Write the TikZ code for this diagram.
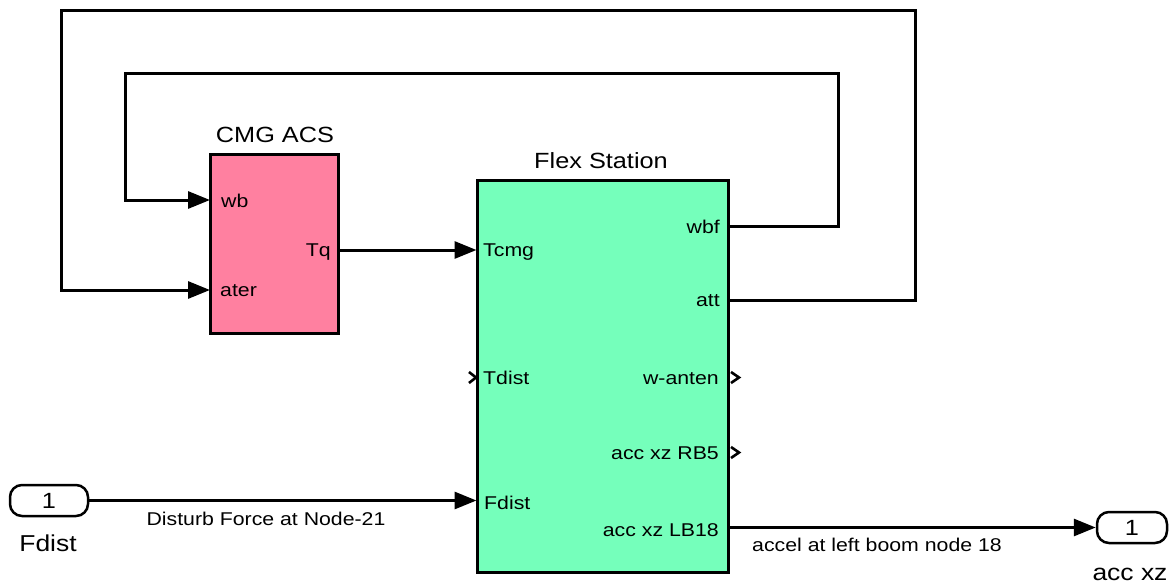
\documentclass[tikz,border=0pt]{standalone}
\usepackage{fontspec}
\setmainfont{Liberation Sans}[FakeStretch=1.15]
\usetikzlibrary{arrows.meta}
\definecolor{cmgpink}{RGB}{255,128,160}
\definecolor{flexgreen}{RGB}{117,255,187}
\begin{document}
\begin{tikzpicture}[x=1pt,y=-1pt,
  block/.style={draw=black, line width=3pt, inner sep=0pt},
  ioport/.style={draw=black, line width=2.5pt, rounded corners=12pt, minimum width=78pt, minimum height=31pt, inner sep=0pt, text height=16pt, text depth=0pt, font=\fontsize{22}{24}\selectfont},
  wire/.style={line width=3pt},
  arr/.style={wire, -{Triangle[length=22pt,width=17pt]}},
  pin/.style={inner sep=0pt, text height=13pt, text depth=0pt, font=\fontsize{18.5}{20}\selectfont},
  pinl/.style={pin, anchor=west},
  pinr/.style={pin, anchor=east},
  lbl/.style={pin},
  biglbl/.style={inner sep=0pt, text height=16pt, text depth=0pt, font=\fontsize{23}{25}\selectfont},
  ttl/.style={inner sep=0pt, text height=15.5pt, text depth=0pt, font=\fontsize{22}{24}\selectfont},
  chev/.style={line width=2.6pt, line join=miter}
]
\useasboundingbox (0,0) rectangle (1170,583);

% blocks
\node[block, fill=cmgpink, minimum width=128pt, minimum height=178pt] (cmg) at (274,244) {};
\node[block, fill=flexgreen, minimum width=251pt, minimum height=392pt] (flex) at (602.5,376) {};

% titles
\node[ttl] (cmgt) at (275,135) {CMG ACS};
\node[ttl] (flext) at (601,161) {Flex Station};

% port coordinates
\coordinate (cmgwb) at (210,200);
\coordinate (cmgater) at (210,290);
\coordinate (cmgtq) at (338,250);
\coordinate (flextcmg) at (476.5,250);
\coordinate (flexfdist) at (476.5,500.5);
\coordinate (flexwbf) at (728.5,226);
\coordinate (flexatt) at (728.5,300);
\coordinate (flexlb) at (728.5,527.5);

% port labels
\node[pinl] (lwb) at (221,201) {wb};
\node[pinl] (later) at (220,290) {ater};
\node[pinr] (ltq) at (331,250) {Tq};
\node[pinl] (ltcmg) at (483,250) {Tcmg};
\node[pinl] (ltdist) at (483,377.5) {Tdist};
\node[pinl] (lfdist) at (484,502.5) {Fdist};
\node[pinr] (lwbf) at (720,227) {wbf};
\node[pinr] (latt) at (720,300) {att};
\node[pinr] (lwant) at (719,377.5) {w-anten};
\node[pinr] (lrb5) at (719,452.5) {acc xz RB5};
\node[pinr] (llb18) at (719,529.5) {acc xz LB18};

% unconnected port markers
\draw[chev] (469,372) -- (476,377.5) -- (469,383);
\draw[chev] (731,372) -- (739,377.5) -- (731,383);
\draw[chev] (731,447) -- (739,452.5) -- (731,458);

% in / out ports
\node[ioport] (fin) at (49,500.5) {1};
\node[biglbl] (fint) at (48,543) {Fdist};
\node[ioport, minimum width=70pt] (fout) at (1132,527.5) {1};
\node[biglbl] (foutt) at (1130,572) {acc xz};

% connectors
\draw[arr] (cmgtq) -- (flextcmg);
\draw[arr] (flexatt) -| (915,11) -| (61,290) -- (cmgater);
\draw[arr] (flexwbf) -| (838,74) -| (125,200) -- (cmgwb);
\draw[arr] (fin.east) -- (flexfdist);
\draw[arr] (flexlb) -- (fout.west);

% line labels
\node[lbl] (ldist) at (266,518.5) {Disturb Force at Node-21};
\node[lbl] (lacc) at (877,545) {accel at left boom node 18};
\end{tikzpicture}
\end{document}
